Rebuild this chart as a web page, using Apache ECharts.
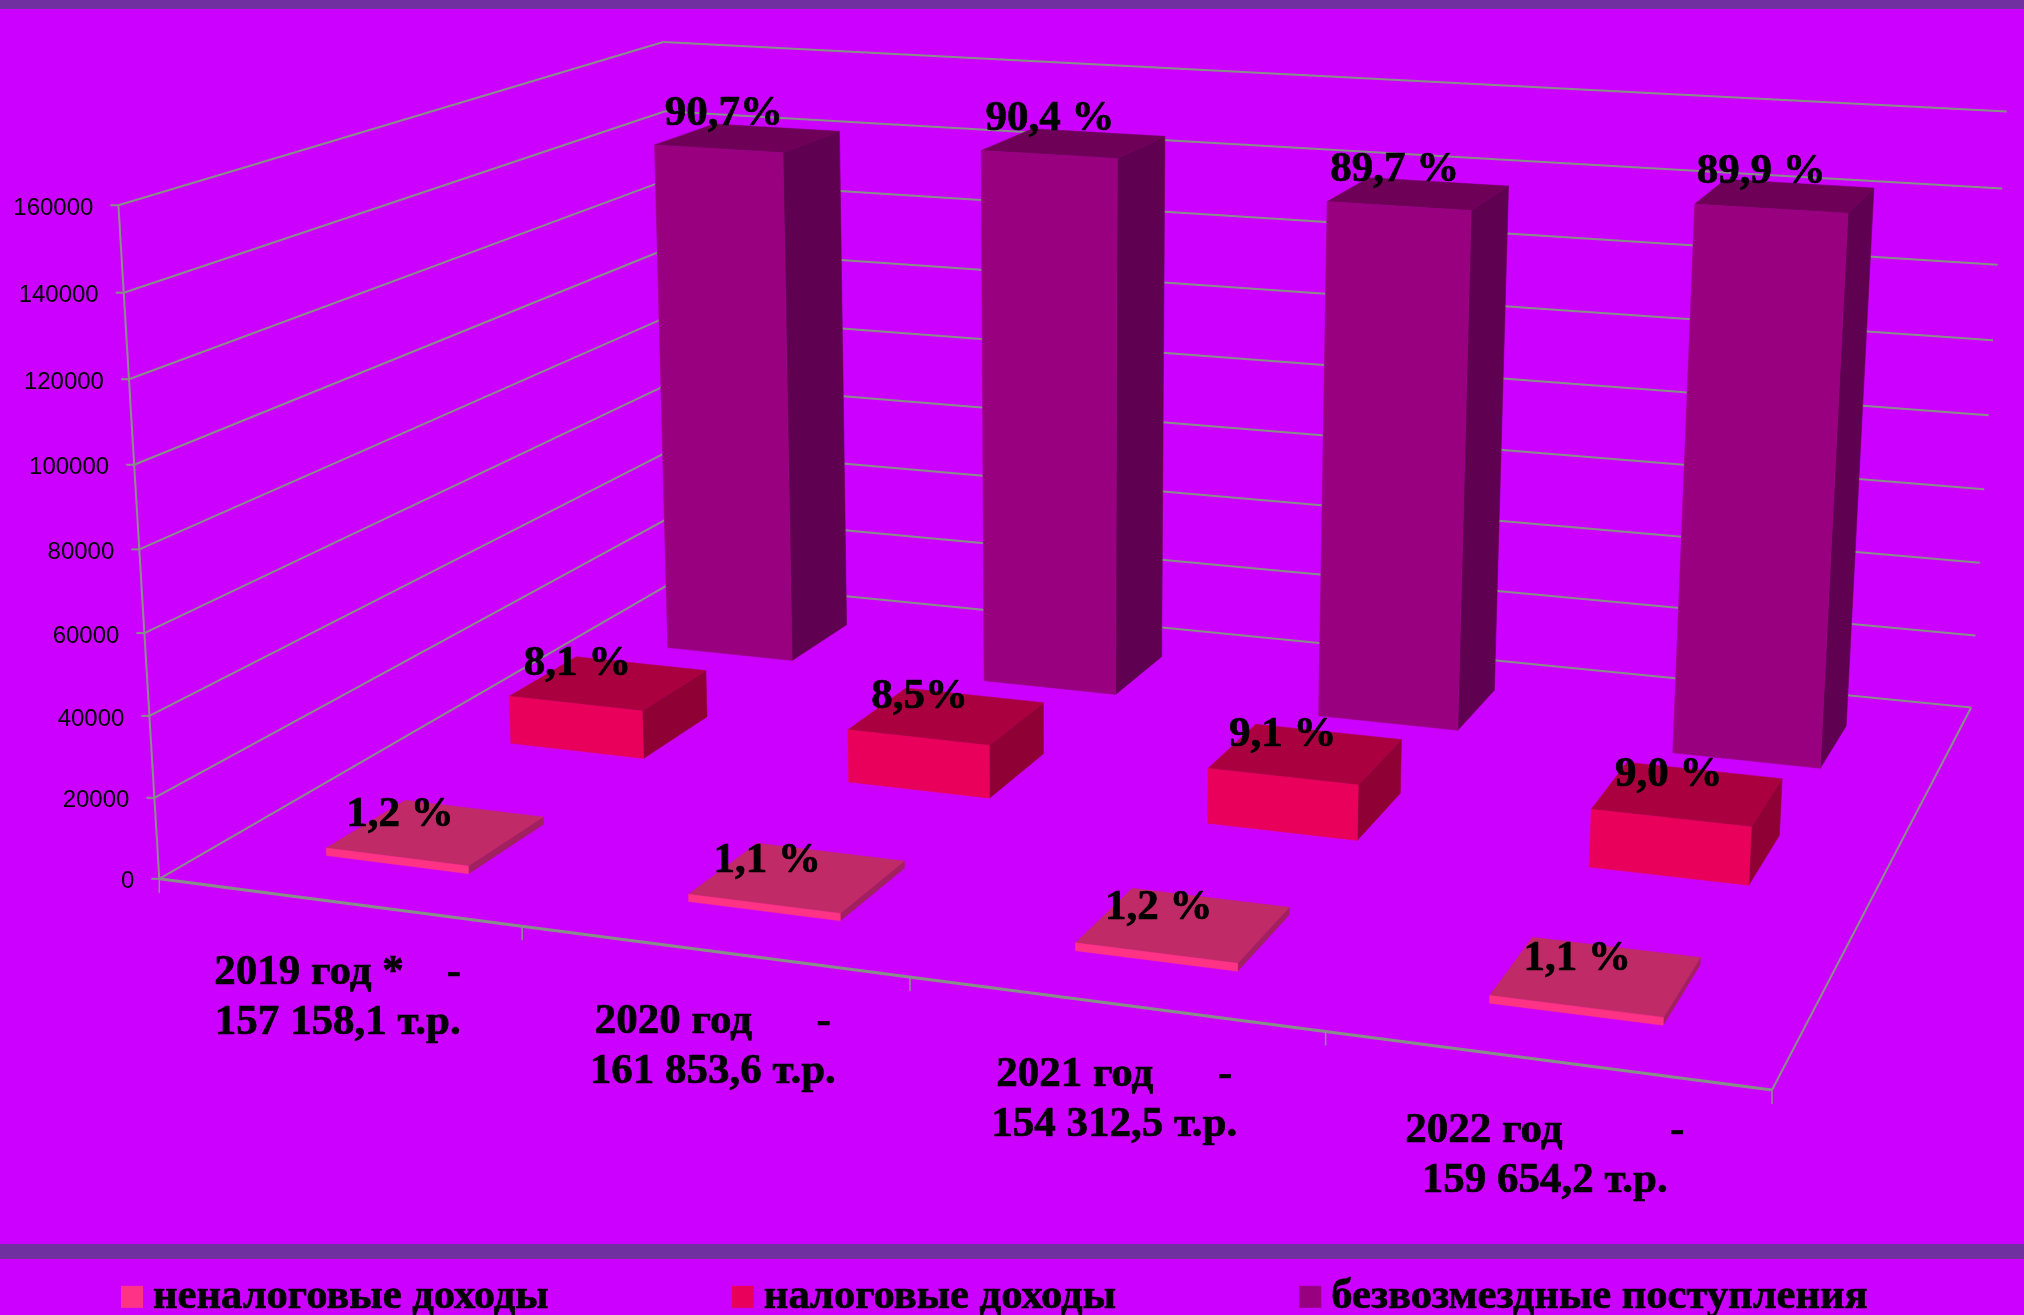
<!DOCTYPE html>
<html><head><meta charset="utf-8">
<style>html,body{margin:0;padding:0;background:#CC00FF}#c{width:2024px;height:1315px}</style>
<script src="https://cdn.jsdelivr.net/npm/echarts@6/dist/echarts.min.js"></script>
</head><body><div id="c"></div>
<script>
const categories = ['2019 год *    -\n157 158,1 т.р.','2020 год      -\n161 853,6 т.р.','2021 год      -\n154 312,5 т.р.','2022 год          -\n159 654,2 т.р.'];
const yTicks = [0,20000,40000,60000,80000,100000,120000,140000,160000];
const nonTax = [1886,1780,1852,1756];
const tax = [12730,13758,14042,14369];
const grants = [142000,145800,137900,143000];
const nonTaxLabels = ['1,2 %','1,1 %','1,2 %','1,1 %'];
const taxLabels = ['8,1 %','8,5%','9,1 %','9,0 %'];
const grantLabels = ['90,7%','90,4 %','89,7 %','89,9 %'];

// camera calibration: cube point (u,v,w) -> picture point
const camera = [
 [0,0,0,159.4,879],[0,0,1,118.6,205.4],[1,0,0,1772,1090],[1,1,0,1971,707],
 [1,1,1,2006.5,111],[0,1,1,663.3,42],[0,0,0.5,139,549],[1,1,0.5,1989,416]
];
function solveCamera(pts){
  const A=[],b=[];
  pts.forEach(p=>{const [u,v,w,x,y]=p;
    A.push([u,v,w,1,0,0,0,0,-x*u,-x*v,-x*w]);b.push(x);
    A.push([0,0,0,0,u,v,w,1,-y*u,-y*v,-y*w]);b.push(y);});
  const n=11,M=[];
  for(let i=0;i<n;i++){M.push([]);for(let j=0;j<=n;j++){let s=0;
    for(let k=0;k<A.length;k++)s+=A[k][i]*(j<n?A[k][j]:b[k]);M[i].push(s);}}
  for(let i=0;i<n;i++){let m=i;for(let r=i+1;r<n;r++)if(Math.abs(M[r][i])>Math.abs(M[m][i]))m=r;
    [M[i],M[m]]=[M[m],M[i]];
    for(let r=0;r<n;r++){if(r===i)continue;const f=M[r][i]/M[i][i];
      for(let c=i;c<=n;c++)M[r][c]-=f*M[i][c];}}
  return M.map((r,i)=>r[n]/r[i]);
}
const C=solveCamera(camera);
function P(u,v,w){const d=C[8]*u+C[9]*v+C[10]*w+1;
  return [(C[0]*u+C[1]*v+C[2]*w+C[3])/d,(C[4]*u+C[5]*v+C[6]*w+C[7])/d];}

const BG='#CC00FF',BAND='#7030A0',LINE='#879087';
const barFrac=0.40, depthHalf=0.068;
const LABEL_FONT='bold 43px "Liberation Serif"';
const poly=(pts,c)=>({type:'polygon',shape:{points:pts},style:{fill:c,stroke:c,lineWidth:0.5}});
const seg=(a,b,lw)=>({type:'line',shape:{x1:a[0],y1:a[1],x2:b[0],y2:b[1]},style:{stroke:LINE,lineWidth:lw||2,fill:null}});

function barRenderer(rowV,faces,labels,off){
  return function(params,api){
    const i=api.value(0),r=params.coordSys;
    const base=api.coord([i,0]),top=api.coord([i,api.value(1)]);
    const cu=(base[0]-r.x)/r.width, du=api.size([1,0])[0]/r.width*barFrac/2;
    const h=(base[1]-top[1])/r.height;
    const u0=cu-du,u1=cu+du,v0=rowV-depthHalf,v1=rowV+depthHalf;
    const c=P(cu,rowV,h);
    return {type:'group',children:[
      poly([P(u1,v0,0),P(u1,v1,0),P(u1,v1,h),P(u1,v0,h)],faces[2]),
      poly([P(u0,v0,h),P(u1,v0,h),P(u1,v1,h),P(u0,v1,h)],faces[1]),
      poly([P(u0,v0,0),P(u1,v0,0),P(u1,v0,h),P(u0,v0,h)],faces[0]),
      {type:'text',z2:10,style:{text:labels[i],x:c[0]+off[0]+off[2]*i,y:c[1]+off[1],align:'center',verticalAlign:'middle',font:LABEL_FONT,fill:'#000',stroke:'#000',lineWidth:0.7}}
    ]};
  };
}
function wallRenderer(params,api){
  const r=params.coordSys,val=api.value(0);
  const p=api.coord([0,val]);
  const w=(r.y+r.height-p[1])/r.height;
  const a=P(0,0,w),b=P(0,1,w),c=P(1,1,w);
  const ch=[seg(a,b),seg(b,c),seg([a[0]-8,a[1]],a),
    {type:'text',style:{text:String(val),x:a[0]-25,y:a[1]+3,align:'right',verticalAlign:'middle',font:'24px "Liberation Sans"',fill:'#000'}}];
  if(val===0){ch.push(seg(P(0,0,0),P(1,0,0),3),seg(P(1,0,0),P(1,1,0)),seg(P(0,0,0),P(0,0,1)));}
  return {type:'group',children:ch};
}
function catRenderer(params,api){
  const i=api.value(0),r=params.coordSys;
  const base=api.coord([i,0]),band=api.size([1,0])[0];
  const cu=(base[0]-r.x)/r.width,du=band/r.width/2;
  const c=P(cu,0,0),t=P(cu+du,0,0);
  const ch=[seg(t,[t[0],t[1]+14],1.5),
    {type:'text',style:{text:categories[i],x:c[0],y:c[1]+96,align:'center',verticalAlign:'middle',font:LABEL_FONT,lineHeight:50,fill:'#000',stroke:'#000',lineWidth:0.7}}];
  if(i===0){const z=P(0,0,0);ch.push(seg(z,[z[0],z[1]+14],1.5));}
  return {type:'group',children:ch};
}
const rowData=a=>a.map((v,i)=>[i,v]);
const chart=echarts.init(document.getElementById('c'),null,{renderer:'canvas',width:2024,height:1315});
chart.setOption({
  animation:false,backgroundColor:BG,
  grid:{left:0,right:0,top:0,bottom:0},
  xAxis:{type:'category',data:categories,show:false},
  yAxis:{type:'value',min:0,max:160000,interval:20000,show:false},
  legend:{left:116,top:1270,itemWidth:22,itemHeight:22,itemGap:183,icon:'rect',
    data:['неналоговые доходы','налоговые доходы','безвозмездные поступления'],
    textStyle:{fontFamily:'Liberation Serif',fontWeight:'bold',fontSize:42.6,color:'#000',padding:[0,0,0,5],textBorderColor:'#000',textBorderWidth:0.7}},
  graphic:[
    {type:'rect',shape:{x:0,y:0,width:2024,height:9},style:{fill:BAND},silent:true},
    {type:'rect',shape:{x:0,y:1244,width:2024,height:15},style:{fill:BAND},silent:true}
  ],
  series:[
    {type:'custom',name:'axes',silent:true,z:1,data:yTicks.map(v=>[v]),encode:{x:-1,y:0},renderItem:wallRenderer},
    {type:'custom',name:'categories',silent:true,z:1,data:categories.map((c,i)=>[i]),encode:{x:0,y:-1},renderItem:catRenderer},
    {type:'custom',name:'безвозмездные поступления',silent:true,z:2,itemStyle:{color:'#990080'},data:rowData(grants),encode:{x:0,y:1},
      renderItem:barRenderer(5/6,['#990080','#6E0058','#600050'],grantLabels,[-24,-24,0])},
    {type:'custom',name:'налоговые доходы',silent:true,z:3,itemStyle:{color:'#E8005A'},data:rowData(tax),encode:{x:0,y:1},
      renderItem:barRenderer(1/2,['#E8005A','#AA0040','#8F0035'],taxLabels,[-31,-19,4])},
    {type:'custom',name:'неналоговые доходы',silent:true,z:4,itemStyle:{color:'#FF3385'},data:rowData(nonTax),encode:{x:0,y:1},
      renderItem:barRenderer(1/6,['#FF3385','#C02A66','#A02060'],nonTaxLabels,[-36,-17,5.6])}
  ]
});
</script></body></html>
